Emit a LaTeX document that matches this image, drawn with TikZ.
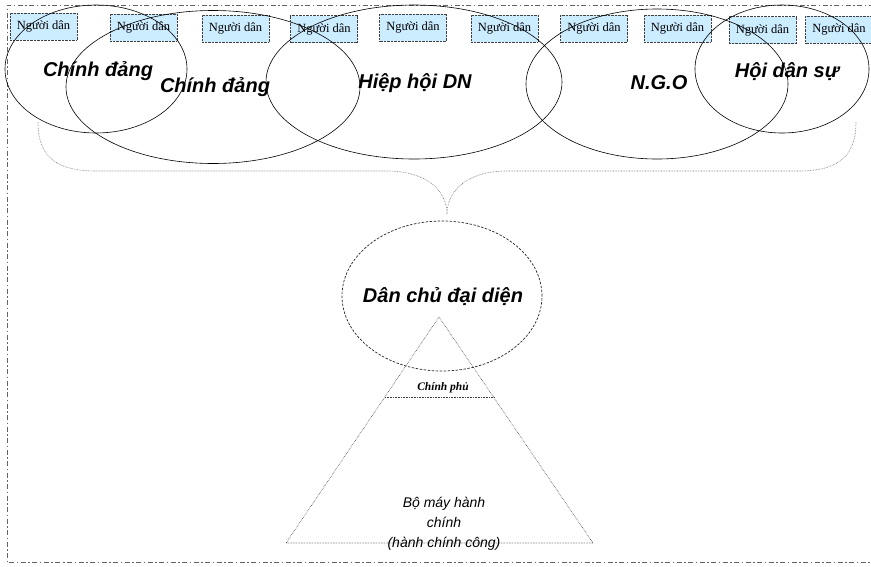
\documentclass[tikz,border=0pt]{standalone}
\usepackage{fontspec}
\setmainfont{Liberation Serif}
\newfontfamily\arialf{Liberation Sans}
\usetikzlibrary{shapes.geometric}
\definecolor{boxblue}{RGB}{204,236,255}
\definecolor{framegray}{RGB}{100,100,100}
\tikzset{
  dan/.style={draw=black!75, densely dotted, fill=boxblue, minimum width=67pt, minimum height=27pt, inner sep=0pt, font=\fontsize{12.5}{14}\selectfont},
  grp/.style={draw=black, line width=0.6pt, ellipse, minimum width=#1, inner sep=0pt},
  biglbl/.style={font=\arialf\bfseries\itshape\fontsize{20}{24}\selectfont},
  brace/.style={draw=black!60, densely dotted, line width=0.6pt},
  tri/.style={draw=black!75, densely dotted, line width=0.6pt},
}
\begin{document}
\begin{tikzpicture}[x=1pt,y=-1pt]
\useasboundingbox (0,0) rectangle (871,566);
% frame
\coordinate (f1) at (885,5);
\coordinate (f2) at (7,5);
\coordinate (f3) at (7,562);
\coordinate (f4) at (885,562);
\draw[framegray, dash pattern=on 5pt off 2.5pt on 1.5pt off 2.5pt, line width=1pt] (f1) -- (f2) -- (f3) -- (f4);

% Nguoi dan boxes
\node[dan] (n1) at (43.5,26.5) {Người dân};
\node[dan] (n2) at (143.5,27.5) {Người dân};
\node[dan] (n3) at (235.5,28.5) {Người dân};
\node[dan] (n4) at (324,29) {Người dân};
\node[dan] (n5) at (413,27.5) {Người dân};
\node[dan] (n6) at (504.5,28.5) {Người dân};
\node[dan] (n7) at (594,28.5) {Người dân};
\node[dan] (n8) at (677.5,28.5) {Người dân};
\node[dan] (n9) at (762.5,30) {Người dân};
\node[dan] (n10) at (839,29.5) {Người dân};

% group ellipses
\node[grp=182pt, minimum height=128pt] (e1) at (96,69) {};
\node[grp=294pt, minimum height=153pt] (e2) at (213,87) {};
\node[grp=296pt, minimum height=154pt] (e3) at (414,82) {};
\node[grp=262pt, minimum height=150pt] (e4) at (657,84) {};
\node[grp=174pt, minimum height=128pt] (e5) at (782,69) {};

\node[biglbl] (l1) at (98,71) {Chính đảng};
\node[biglbl] (l2) at (215,87) {Chính đảng};
\node[biglbl] (l3) at (415,83) {Hiệp hội DN};
\node[biglbl] (l4) at (659,83) {N.G.O};
\node[biglbl] (l5) at (787,72) {Hội dân sự};

% brace
\coordinate (bl) at (38,122);
\coordinate (br) at (856,122);
\coordinate (bj) at (447,214);
\draw[brace] (bl) .. controls (38,160) and (60,171) .. (97,171) -- (387,171)
  .. controls (428,171) and (447,192) .. (bj);
\draw[brace] (br) .. controls (856,160) and (834,171) .. (798,171) -- (507,171)
  .. controls (466,171) and (447,192) .. (bj);

% triangle
\coordinate (ta) at (439,317);
\coordinate (tl) at (286,543);
\coordinate (tr) at (593,543);
\coordinate (gl) at (385,397);
\coordinate (gr) at (494,397);
\draw[tri] (ta) -- (tl) -- (tr) -- cycle;
\draw[tri] (gl) -- (gr);

% representative democracy
\node[draw=black!85, dash pattern=on 2.5pt off 1.5pt, line width=0.7pt, ellipse, minimum width=200pt, minimum height=150pt, inner sep=0pt] (dc) at (442,296) {};
\node[biglbl] (dcl) at (443,297) {Dân chủ đại diện};

\node[font=\bfseries\itshape\fontsize{11.5}{13}\selectfont] (cp) at (443,388) {Chính phủ};

\node[font=\arialf\itshape\fontsize{14}{20}\selectfont, align=center] (bm) at (444,524) {Bộ máy hành\\chính\\(hành chính công)};
\end{tikzpicture}
\end{document}
